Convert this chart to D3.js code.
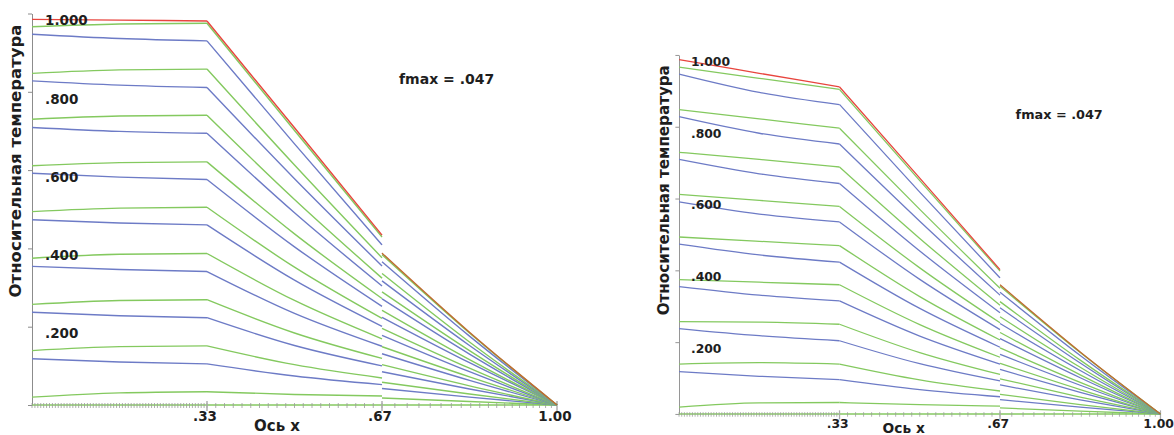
<!DOCTYPE html>
<html><head><meta charset="utf-8">
<script src="https://cdn.jsdelivr.net/npm/d3@7"></script>
<style>html,body{margin:0;padding:0;background:#fff;} svg{display:block}</style>
</head><body>
<svg id="chart" width="1174" height="435"></svg>
<script>
// ---------- data ----------
const xNodes = [0, 0.1667, 0.3333, 0.5, 0.6667, 0.8333, 1.0];
const seriesKind = ["red","green","blue","green","blue","green","blue","green","blue",
                    "green","blue","green","blue","green","blue","green","blue","green"];
const xTickValues = [1/3, 2/3, 1];
const xTickLabels = [".33", ".67", "1.00"];
const yTickValues = [0.2, 0.4, 0.6, 0.8, 1.0];
const yTickLabels = [".200", ".400", ".600", ".800", "1.000"];
const xTitle = "Ось x";
const yTitle = "Относительная температура";
const noteText = "fmax = .047";

// left panel: values at each node (x = 0, 1/6, 1/3, 1/2, 2/3-, 2/3+, 5/6, 1)
const leftAt0   = [0.985,0.966,0.947,0.847,0.828,0.730,0.709,0.611,0.592,0.494,0.473,0.375,0.354,0.257,0.237,0.139,0.118,0.020];
const leftAt17  = [0.983,0.973,0.936,0.856,0.817,0.738,0.699,0.619,0.582,0.503,0.465,0.385,0.346,0.267,0.228,0.149,0.110,0.031];
const leftAt33  = [0.981,0.975,0.930,0.858,0.811,0.740,0.694,0.621,0.576,0.505,0.460,0.387,0.341,0.269,0.223,0.151,0.105,0.034];
const leftAt50  = [0.708,0.701,0.667,0.613,0.578,0.525,0.491,0.437,0.404,0.352,0.319,0.267,0.234,0.184,0.152,0.103,0.074,0.027];
const leftAt67a = [0.434,0.429,0.409,0.376,0.355,0.324,0.304,0.272,0.252,0.221,0.201,0.169,0.150,0.119,0.100,0.069,0.052,0.023];
const leftAt67b = [0.388,0.384,0.366,0.336,0.317,0.289,0.271,0.242,0.224,0.196,0.178,0.149,0.131,0.103,0.085,0.058,0.042,0.018];
const leftAt83  = [0.186,0.184,0.176,0.161,0.152,0.139,0.130,0.116,0.108,0.094,0.085,0.072,0.063,0.049,0.041,0.028,0.020,0.009];
const leftAt100 = [0,0,0,0,0,0,0,0,0,0,0,0,0,0,0,0,0,0];

// right panel
const rightAt0   = [0.987,0.966,0.947,0.848,0.828,0.729,0.709,0.612,0.591,0.493,0.473,0.374,0.355,0.257,0.238,0.139,0.118,0.019];
const rightAt17  = [0.949,0.935,0.896,0.822,0.782,0.709,0.669,0.595,0.557,0.481,0.443,0.367,0.331,0.256,0.218,0.143,0.105,0.031];
const rightAt33  = [0.911,0.904,0.862,0.796,0.752,0.688,0.642,0.578,0.535,0.469,0.423,0.360,0.315,0.250,0.204,0.139,0.096,0.032];
const rightAt50  = [0.657,0.650,0.618,0.570,0.537,0.489,0.454,0.407,0.375,0.327,0.294,0.249,0.217,0.171,0.140,0.095,0.068,0.026];
const rightAt67a = [0.402,0.398,0.379,0.350,0.331,0.303,0.282,0.254,0.235,0.206,0.186,0.158,0.139,0.110,0.092,0.064,0.048,0.022];
const rightAt67b = [0.360,0.356,0.339,0.313,0.296,0.271,0.252,0.227,0.210,0.184,0.166,0.141,0.124,0.098,0.081,0.055,0.040,0.017];
const rightAt83  = [0.173,0.171,0.163,0.150,0.142,0.130,0.121,0.109,0.101,0.088,0.080,0.068,0.060,0.047,0.039,0.026,0.019,0.008];
const rightAt100 = [0,0,0,0,0,0,0,0,0,0,0,0,0,0,0,0,0,0];

// x-axis mesh tick counts per layer
const meshCounts = [60, 20, 20];

// ---------- styles ----------
const colors = {red: "#e8453e", green: "#84c95f", blue: "#6d7bc6"};
const redTail = "#bf6a30";
const FONT = "'DejaVu Sans', Verdana, sans-serif";

const svg = d3.select("#chart");

function buildCurves(a0,a17,a33,a50,a67a,a67b,a83,a100){
  return seriesKind.map((k,i)=>({
    kind:k,
    sections:[
      [[xNodes[0],a0[i]],[xNodes[1],a17[i]],[xNodes[2],a33[i]]],
      [[xNodes[2],a33[i]],[xNodes[3],a50[i]],[xNodes[4],a67a[i]]],
      [[xNodes[4],a67b[i]],[xNodes[5],a83[i]],[xNodes[6],a100[i]]]
    ]
  }));
}

function meshPositions(){
  const pts = [];
  d3.range(meshCounts[0]).forEach(i=>pts.push(i/meshCounts[0]/3));
  d3.range(meshCounts[1]).forEach(i=>pts.push(1/3 + i/meshCounts[1]/3));
  const r = 0.957, n = meshCounts[2];
  const w = d3.range(n).map(i=>Math.pow(r,i));
  const tot = d3.sum(w);
  let acc = 0;
  for(let i=0;i<n;i++){ pts.push(2/3 + acc/tot/3); acc += w[i]; }
  return pts;
}

function drawPanel(g, curves, xTitleY){
  const x = d3.scaleLinear().domain([0,1]).range([32,557]);
  const y = d3.scaleLinear().domain([0,1]).range([405,13.5]);

  // y axis
  const ya = g.append("g").attr("transform",`translate(${x(0)},0)`)
    .call(d3.axisLeft(y).tickValues([0].concat(yTickValues)).tickSize(4).tickSizeOuter(0).tickFormat(""));
  ya.select(".domain").attr("stroke","#8c8c8c");
  ya.selectAll(".tick line").attr("stroke","#8c8c8c");

  // x axis: green base line + mesh ticks
  g.append("line").attr("x1",x(0)).attr("x2",x(1)).attr("y1",y(0)).attr("y2",y(0))
    .attr("stroke","#86c962").attr("stroke-width",1.6);
  g.append("g").selectAll("line").data(meshPositions()).join("line")
    .attr("x1",d=>x(d)).attr("x2",d=>x(d)).attr("y1",y(0)-2).attr("y2",y(0)+3)
    .attr("stroke","#9a9a9a").attr("stroke-width",0.8);
  g.append("g").selectAll("line").data(xTickValues).join("line")
    .attr("x1",d=>x(d)).attr("x2",d=>x(d)).attr("y1",y(0)-4).attr("y2",y(0)+6)
    .attr("stroke","#aaaaaa").attr("stroke-width",1.4);

  // curves
  const line = d3.line().x(d=>x(d[0])).y(d=>y(d[1])).curve(d3.curveMonotoneX);
  const ordered = curves.slice().reverse();
  ordered.forEach(c=>{
    c.sections.forEach((s,si)=>{
      let col = colors[c.kind];
      if(c.kind==="red" && si===2) col = redTail;
      g.append("path").attr("d",line(s)).attr("fill","none")
        .attr("stroke",col).attr("stroke-width",1.4);
    });
  });

  // y tick labels
  g.append("g").selectAll("text").data(yTickValues).join("text")
    .attr("x",x(0)+13).attr("y",d=>y(d)+11.7)
    .attr("font-family",FONT).attr("font-weight","bold").attr("font-size",13.5)
    .attr("fill","#1e1e1e").text((d,i)=>yTickLabels[i]);

  // x tick labels
  g.append("g").selectAll("text").data(xTickValues).join("text")
    .attr("x",d=>x(d)-2).attr("y",y(0)+15.5).attr("text-anchor","middle")
    .attr("font-family",FONT).attr("font-weight","bold").attr("font-size",13.5)
    .attr("fill","#1e1e1e").text((d,i)=>xTickLabels[i]);

  // axis titles
  g.append("text").attr("x",277).attr("y",xTitleY).attr("text-anchor","middle")
    .attr("font-family",FONT).attr("font-weight","bold").attr("font-size",15)
    .attr("fill","#1e1e1e").text(xTitle);
  g.append("text").attr("transform","translate(21,161) rotate(-90)").attr("text-anchor","middle")
    .attr("font-family",FONT).attr("font-weight","bold").attr("font-size",16.5)
    .attr("fill","#1e1e1e").text(yTitle);

  // note
  g.append("text").attr("x",399).attr("y",83.7)
    .attr("font-family",FONT).attr("font-weight","bold").attr("font-size",14)
    .attr("fill","#1e1e1e").text(noteText);
}

const leftCurves = buildCurves(leftAt0,leftAt17,leftAt33,leftAt50,leftAt67a,leftAt67b,leftAt83,leftAt100);
const rightCurves = buildCurves(rightAt0,rightAt17,rightAt33,rightAt50,rightAt67a,rightAt67b,rightAt83,rightAt100);

drawPanel(svg.append("g"), leftCurves, 431);
drawPanel(svg.append("g").attr("transform","translate(649.7,42.6) scale(0.917)"), rightCurves, 426);
</script>
</body></html>
